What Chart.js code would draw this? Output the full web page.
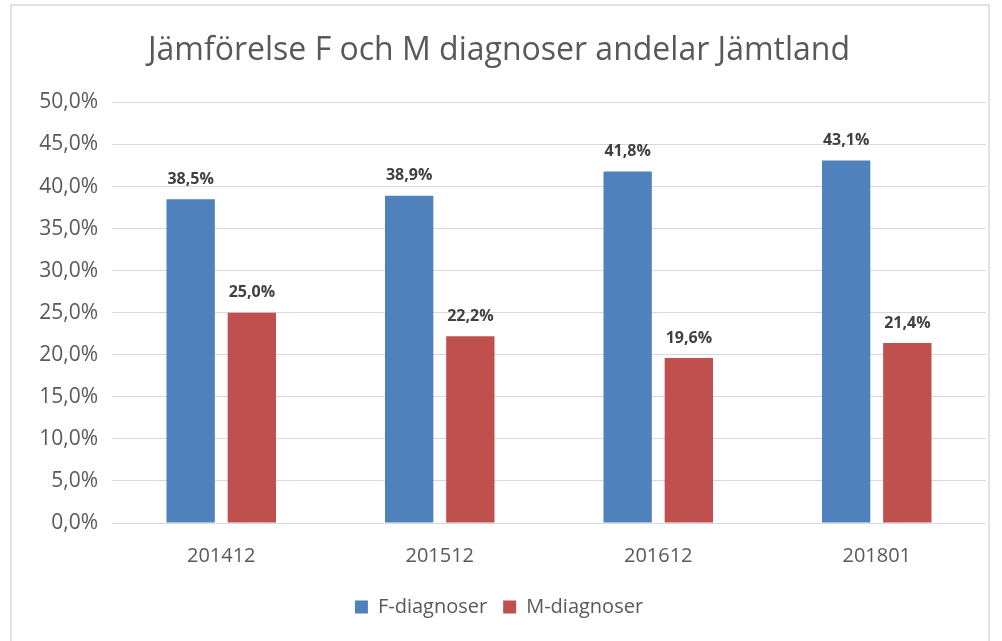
<!DOCTYPE html>
<html>
<head>
    <meta charset="utf-8">
    <script src="https://cdn.jsdelivr.net/npm/chart.js@4.4.0/dist/chart.umd.min.js"></script>
    <style>
        body { margin: 0; background: #ffffff; }
        #frame {
            position: absolute; left: 10px; top: 4px;
            width: 980px; height: 660px;
            border: 2px solid #e3e3e3; box-sizing: border-box;
        }
        #wrap { position: absolute; left: 0; top: 0; width: 976px; height: 637px; }
    </style>
</head>
<body>
    <div id="frame">
        <div id="wrap"><canvas id="myChart"></canvas></div>
    </div>

    <script type="text/javascript">
        // chart data
        const categories = ['201412', '201512', '201612', '201801'];
        const fValues = [38.5, 38.9, 41.8, 43.1];
        const mValues = [25.0, 22.2, 19.6, 21.4];
        const seriesNames = ['F-diagnoser', 'M-diagnoser'];

        function pct(v) {
            return v.toFixed(1).replace('.', ',') + '%';
        }

        // draws the value above each bar
        const barLabels = {
            id: 'barLabels',
            afterDatasetsDraw(chart) {
                const ctx = chart.ctx;
                ctx.save();
                ctx.font = 'bold 16px "Open Sans"';
                ctx.fillStyle = '#404040';
                ctx.textAlign = 'center';
                ctx.textBaseline = 'bottom';
                chart.data.datasets.forEach((ds, i) => {
                    chart.getDatasetMeta(i).data.forEach((bar, j) => {
                        ctx.fillText(pct(ds.data[j]), bar.x, bar.y - 12);
                    });
                });
                ctx.restore();
            }
        };

        const config = {
            type: 'bar',
            data: {
                labels: categories,
                datasets: [{
                    label: seriesNames[0],
                    data: fValues,
                    backgroundColor: '#4F81BD'
                }, {
                    label: seriesNames[1],
                    data: mValues,
                    backgroundColor: '#C0504D'
                }]
            },
            options: {
                responsive: true,
                maintainAspectRatio: false,
                animation: false,
                categoryPercentage: 0.56,
                barPercentage: 0.79,
                layout: { padding: { left: 0, right: 2, top: 0, bottom: 16 } },
                plugins: {
                    tooltip: { enabled: false },
                    title: {
                        display: true,
                        text: 'Jämförelse F och M diagnoser andelar Jämtland',
                        color: '#595959',
                        font: { family: 'Open Sans', size: 32, weight: 'normal' },
                        padding: { top: 26, bottom: 32 }
                    },
                    legend: {
                        position: 'bottom',
                        labels: {
                            color: '#595959',
                            boxWidth: 13,
                            boxHeight: 13,
                            padding: 16,
                            font: { family: 'Open Sans', size: 20 }
                        }
                    }
                },
                scales: {
                    x: {
                        grid: { display: false },
                        border: { display: false },
                        ticks: {
                            color: '#595959',
                            padding: 13,
                            font: { family: 'Open Sans', size: 20 }
                        }
                    },
                    y: {
                        min: 0,
                        max: 50,
                        afterFit(scale) { scale.width = 100; },
                        grid: { color: '#d9d9d9', drawTicks: false },
                        border: { display: false },
                        ticks: {
                            stepSize: 5,
                            color: '#595959',
                            padding: 14,
                            font: { family: 'Open Sans', size: 21 },
                            callback: (v) => pct(v)
                        }
                    }
                }
            },
            plugins: [barLabels]
        };

        const chart = new Chart(document.getElementById('myChart'), config);
    </script>
</body>
</html>
